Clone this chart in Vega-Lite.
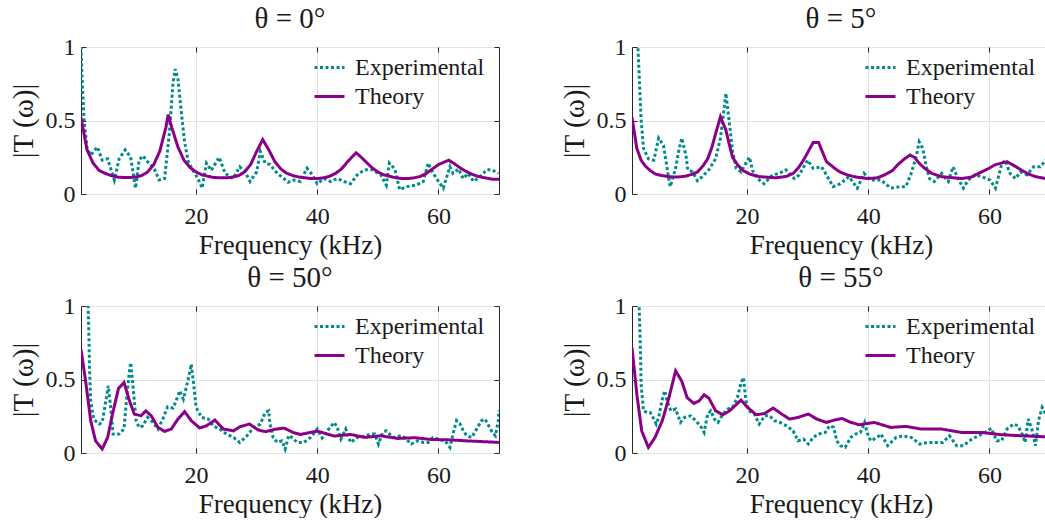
{
  "$schema": "https://vega.github.io/schema/vega-lite/v6.json",
  "background": "white",
  "padding": {"left": 8, "top": 4, "right": 0, "bottom": 0},
  "datasets": {
    "p0": [
      {"s":"Experimental","f":1,"v":1.0},{"s":"Experimental","f":1.2,"v":0.76},{"s":"Experimental","f":1.5,"v":0.51},{"s":"Experimental","f":2.0,"v":0.31},{"s":"Experimental","f":2.6,"v":0.265},{"s":"Experimental","f":3.7,"v":0.32},{"s":"Experimental","f":4.5,"v":0.23},{"s":"Experimental","f":5.4,"v":0.24},{"s":"Experimental","f":6.5,"v":0.095},{"s":"Experimental","f":7.3,"v":0.24},{"s":"Experimental","f":8.3,"v":0.30},{"s":"Experimental","f":9.2,"v":0.25},{"s":"Experimental","f":10,"v":0.04},{"s":"Experimental","f":10.6,"v":0.23},{"s":"Experimental","f":11.2,"v":0.26},{"s":"Experimental","f":12,"v":0.22},{"s":"Experimental","f":13.1,"v":0.17},{"s":"Experimental","f":13.9,"v":0.095},{"s":"Experimental","f":14.8,"v":0.105},{"s":"Experimental","f":15.6,"v":0.42},{"s":"Experimental","f":16.2,"v":0.76},{"s":"Experimental","f":16.55,"v":0.85},{"s":"Experimental","f":17.0,"v":0.785},{"s":"Experimental","f":17.6,"v":0.54},{"s":"Experimental","f":18.1,"v":0.355},{"s":"Experimental","f":18.7,"v":0.22},{"s":"Experimental","f":19.5,"v":0.16},{"s":"Experimental","f":20.3,"v":0.105},{"s":"Experimental","f":21,"v":0.04},{"s":"Experimental","f":21.7,"v":0.21},{"s":"Experimental","f":22.5,"v":0.16},{"s":"Experimental","f":23.8,"v":0.25},{"s":"Experimental","f":24.8,"v":0.14},{"s":"Experimental","f":26.1,"v":0.105},{"s":"Experimental","f":27.2,"v":0.185},{"s":"Experimental","f":28.1,"v":0.15},{"s":"Experimental","f":28.9,"v":0.085},{"s":"Experimental","f":30,"v":0.15},{"s":"Experimental","f":30.6,"v":0.29},{"s":"Experimental","f":31.4,"v":0.21},{"s":"Experimental","f":32.2,"v":0.2},{"s":"Experimental","f":33.4,"v":0.14},{"s":"Experimental","f":34.5,"v":0.105},{"s":"Experimental","f":35.2,"v":0.08},{"s":"Experimental","f":36.1,"v":0.095},{"s":"Experimental","f":37.2,"v":0.085},{"s":"Experimental","f":38.3,"v":0.175},{"s":"Experimental","f":39.2,"v":0.13},{"s":"Experimental","f":40,"v":0.07},{"s":"Experimental","f":41.1,"v":0.105},{"s":"Experimental","f":42.2,"v":0.085},{"s":"Experimental","f":43.3,"v":0.105},{"s":"Experimental","f":44.4,"v":0.085},{"s":"Experimental","f":45.5,"v":0.07},{"s":"Experimental","f":46.6,"v":0.13},{"s":"Experimental","f":47.8,"v":0.165},{"s":"Experimental","f":49.1,"v":0.165},{"s":"Experimental","f":50.5,"v":0.13},{"s":"Experimental","f":51.4,"v":0.06},{"s":"Experimental","f":51.9,"v":0.21},{"s":"Experimental","f":52.8,"v":0.17},{"s":"Experimental","f":53.6,"v":0.03},{"s":"Experimental","f":54.7,"v":0.05},{"s":"Experimental","f":56.3,"v":0.06},{"s":"Experimental","f":57.5,"v":0.085},{"s":"Experimental","f":58.3,"v":0.21},{"s":"Experimental","f":58.8,"v":0.165},{"s":"Experimental","f":59.7,"v":0.105},{"s":"Experimental","f":60.8,"v":0.04},{"s":"Experimental","f":61.9,"v":0.185},{"s":"Experimental","f":62.4,"v":0.14},{"s":"Experimental","f":63.3,"v":0.17},{"s":"Experimental","f":64.1,"v":0.105},{"s":"Experimental","f":64.9,"v":0.14},{"s":"Experimental","f":65.8,"v":0.085},{"s":"Experimental","f":66.9,"v":0.12},{"s":"Experimental","f":68,"v":0.165},{"s":"Experimental","f":68.8,"v":0.165},{"s":"Experimental","f":69.9,"v":0.14},
      {"s":"Theory","f":1,"v":0.52},{"s":"Theory","f":2,"v":0.3},{"s":"Theory","f":3,"v":0.21},{"s":"Theory","f":4,"v":0.16},{"s":"Theory","f":5,"v":0.14},{"s":"Theory","f":6,"v":0.125},{"s":"Theory","f":7,"v":0.115},{"s":"Theory","f":8,"v":0.112},{"s":"Theory","f":9,"v":0.112},{"s":"Theory","f":10,"v":0.115},{"s":"Theory","f":11,"v":0.125},{"s":"Theory","f":12,"v":0.15},{"s":"Theory","f":13,"v":0.2},{"s":"Theory","f":14,"v":0.29},{"s":"Theory","f":15,"v":0.45},{"s":"Theory","f":15.4,"v":0.54},{"s":"Theory","f":16,"v":0.45},{"s":"Theory","f":17,"v":0.32},{"s":"Theory","f":18,"v":0.23},{"s":"Theory","f":19,"v":0.18},{"s":"Theory","f":20,"v":0.15},{"s":"Theory","f":21,"v":0.13},{"s":"Theory","f":22,"v":0.12},{"s":"Theory","f":23,"v":0.112},{"s":"Theory","f":24,"v":0.11},{"s":"Theory","f":25,"v":0.11},{"s":"Theory","f":26,"v":0.115},{"s":"Theory","f":27,"v":0.125},{"s":"Theory","f":28,"v":0.15},{"s":"Theory","f":29,"v":0.2},{"s":"Theory","f":30,"v":0.29},{"s":"Theory","f":31,"v":0.37},{"s":"Theory","f":32,"v":0.3},{"s":"Theory","f":33,"v":0.22},{"s":"Theory","f":34,"v":0.17},{"s":"Theory","f":35,"v":0.14},{"s":"Theory","f":36,"v":0.125},{"s":"Theory","f":37,"v":0.115},{"s":"Theory","f":38,"v":0.11},{"s":"Theory","f":39,"v":0.105},{"s":"Theory","f":40,"v":0.105},{"s":"Theory","f":41,"v":0.11},{"s":"Theory","f":42,"v":0.12},{"s":"Theory","f":43,"v":0.14},{"s":"Theory","f":44,"v":0.17},{"s":"Theory","f":45,"v":0.22},{"s":"Theory","f":46.4,"v":0.28},{"s":"Theory","f":47,"v":0.26},{"s":"Theory","f":48,"v":0.22},{"s":"Theory","f":49,"v":0.18},{"s":"Theory","f":50,"v":0.15},{"s":"Theory","f":51,"v":0.13},{"s":"Theory","f":52,"v":0.12},{"s":"Theory","f":53,"v":0.11},{"s":"Theory","f":54,"v":0.105},{"s":"Theory","f":55,"v":0.105},{"s":"Theory","f":56,"v":0.11},{"s":"Theory","f":57,"v":0.12},{"s":"Theory","f":58,"v":0.14},{"s":"Theory","f":59,"v":0.17},{"s":"Theory","f":60,"v":0.2},{"s":"Theory","f":61.7,"v":0.23},{"s":"Theory","f":62.5,"v":0.21},{"s":"Theory","f":63.5,"v":0.18},{"s":"Theory","f":64.5,"v":0.155},{"s":"Theory","f":65.5,"v":0.135},{"s":"Theory","f":66.5,"v":0.12},{"s":"Theory","f":67.7,"v":0.11},{"s":"Theory","f":69,"v":0.1},{"s":"Theory","f":70,"v":0.1}
    ],
    "p1": [
      {"s":"Experimental","f":1,"v":2.6},{"s":"Experimental","f":2.0,"v":0.98},{"s":"Experimental","f":2.5,"v":0.51},{"s":"Experimental","f":2.9,"v":0.31},{"s":"Experimental","f":3.7,"v":0.24},{"s":"Experimental","f":4.6,"v":0.23},{"s":"Experimental","f":5.4,"v":0.38},{"s":"Experimental","f":6.2,"v":0.33},{"s":"Experimental","f":6.8,"v":0.175},{"s":"Experimental","f":7.3,"v":0.05},{"s":"Experimental","f":8.2,"v":0.175},{"s":"Experimental","f":8.7,"v":0.29},{"s":"Experimental","f":9.2,"v":0.38},{"s":"Experimental","f":9.9,"v":0.265},{"s":"Experimental","f":10.2,"v":0.165},{"s":"Experimental","f":11,"v":0.15},{"s":"Experimental","f":11.8,"v":0.09},{"s":"Experimental","f":12.6,"v":0.118},{"s":"Experimental","f":13.7,"v":0.165},{"s":"Experimental","f":14.8,"v":0.24},{"s":"Experimental","f":15.6,"v":0.38},{"s":"Experimental","f":16.2,"v":0.58},{"s":"Experimental","f":16.5,"v":0.685},{"s":"Experimental","f":17.0,"v":0.51},{"s":"Experimental","f":17.6,"v":0.29},{"s":"Experimental","f":18.2,"v":0.175},{"s":"Experimental","f":19,"v":0.15},{"s":"Experimental","f":19.8,"v":0.21},{"s":"Experimental","f":20.4,"v":0.25},{"s":"Experimental","f":20.9,"v":0.16},{"s":"Experimental","f":21.7,"v":0.105},{"s":"Experimental","f":22.8,"v":0.07},{"s":"Experimental","f":24.2,"v":0.13},{"s":"Experimental","f":25.3,"v":0.14},{"s":"Experimental","f":26.4,"v":0.165},{"s":"Experimental","f":27.8,"v":0.105},{"s":"Experimental","f":28.6,"v":0.13},{"s":"Experimental","f":30,"v":0.23},{"s":"Experimental","f":30.9,"v":0.175},{"s":"Experimental","f":32.3,"v":0.185},{"s":"Experimental","f":33.1,"v":0.13},{"s":"Experimental","f":34.2,"v":0.05},{"s":"Experimental","f":35.4,"v":0.07},{"s":"Experimental","f":36.8,"v":0.118},{"s":"Experimental","f":38.2,"v":0.04},{"s":"Experimental","f":39.3,"v":0.14},{"s":"Experimental","f":40.4,"v":0.095},{"s":"Experimental","f":42.1,"v":0.095},{"s":"Experimental","f":43.7,"v":0.04},{"s":"Experimental","f":45.4,"v":0.05},{"s":"Experimental","f":46.2,"v":0.05},{"s":"Experimental","f":47.0,"v":0.13},{"s":"Experimental","f":47.9,"v":0.25},{"s":"Experimental","f":48.4,"v":0.355},{"s":"Experimental","f":49,"v":0.31},{"s":"Experimental","f":49.5,"v":0.2},{"s":"Experimental","f":50.1,"v":0.105},{"s":"Experimental","f":50.9,"v":0.085},{"s":"Experimental","f":52.1,"v":0.14},{"s":"Experimental","f":53.2,"v":0.085},{"s":"Experimental","f":54,"v":0.185},{"s":"Experimental","f":54.8,"v":0.105},{"s":"Experimental","f":55.7,"v":0.04},{"s":"Experimental","f":56.5,"v":0.095},{"s":"Experimental","f":57.6,"v":0.13},{"s":"Experimental","f":58.7,"v":0.118},{"s":"Experimental","f":60.1,"v":0.095},{"s":"Experimental","f":61,"v":0.04},{"s":"Experimental","f":62,"v":0.2},{"s":"Experimental","f":62.6,"v":0.23},{"s":"Experimental","f":63.4,"v":0.14},{"s":"Experimental","f":64.3,"v":0.105},{"s":"Experimental","f":65.1,"v":0.15},{"s":"Experimental","f":66.2,"v":0.13},{"s":"Experimental","f":67.3,"v":0.185},{"s":"Experimental","f":68.4,"v":0.185},{"s":"Experimental","f":69.3,"v":0.23},{"s":"Experimental","f":70,"v":0.22},
      {"s":"Theory","f":1,"v":0.52},{"s":"Theory","f":1.8,"v":0.31},{"s":"Theory","f":2.5,"v":0.23},{"s":"Theory","f":3.2,"v":0.19},{"s":"Theory","f":4,"v":0.16},{"s":"Theory","f":4.9,"v":0.135},{"s":"Theory","f":6,"v":0.125},{"s":"Theory","f":7.1,"v":0.118},{"s":"Theory","f":8.5,"v":0.115},{"s":"Theory","f":9.9,"v":0.122},{"s":"Theory","f":11,"v":0.135},{"s":"Theory","f":11.8,"v":0.15},{"s":"Theory","f":12.7,"v":0.19},{"s":"Theory","f":13.5,"v":0.24},{"s":"Theory","f":14.2,"v":0.32},{"s":"Theory","f":14.8,"v":0.41},{"s":"Theory","f":15.6,"v":0.525},{"s":"Theory","f":16.5,"v":0.435},{"s":"Theory","f":17.1,"v":0.33},{"s":"Theory","f":17.6,"v":0.25},{"s":"Theory","f":18.4,"v":0.2},{"s":"Theory","f":19.3,"v":0.16},{"s":"Theory","f":20.5,"v":0.135},{"s":"Theory","f":22,"v":0.118},{"s":"Theory","f":24.8,"v":0.11},{"s":"Theory","f":26.5,"v":0.12},{"s":"Theory","f":27.6,"v":0.14},{"s":"Theory","f":28.5,"v":0.18},{"s":"Theory","f":29.3,"v":0.23},{"s":"Theory","f":30.1,"v":0.29},{"s":"Theory","f":30.9,"v":0.35},{"s":"Theory","f":31.8,"v":0.35},{"s":"Theory","f":32.5,"v":0.28},{"s":"Theory","f":33.1,"v":0.22},{"s":"Theory","f":34.3,"v":0.18},{"s":"Theory","f":35.3,"v":0.15},{"s":"Theory","f":36.5,"v":0.13},{"s":"Theory","f":38,"v":0.115},{"s":"Theory","f":39.9,"v":0.105},{"s":"Theory","f":41.5,"v":0.11},{"s":"Theory","f":42.7,"v":0.13},{"s":"Theory","f":44,"v":0.16},{"s":"Theory","f":44.9,"v":0.2},{"s":"Theory","f":46,"v":0.24},{"s":"Theory","f":46.9,"v":0.265},{"s":"Theory","f":47.6,"v":0.25},{"s":"Theory","f":48.4,"v":0.21},{"s":"Theory","f":49.3,"v":0.175},{"s":"Theory","f":50.5,"v":0.14},{"s":"Theory","f":52.1,"v":0.118},{"s":"Theory","f":55.4,"v":0.105},{"s":"Theory","f":57,"v":0.115},{"s":"Theory","f":58.2,"v":0.14},{"s":"Theory","f":59.7,"v":0.17},{"s":"Theory","f":61,"v":0.2},{"s":"Theory","f":62.9,"v":0.22},{"s":"Theory","f":64.2,"v":0.19},{"s":"Theory","f":65.4,"v":0.16},{"s":"Theory","f":66.5,"v":0.135},{"s":"Theory","f":67.6,"v":0.118},{"s":"Theory","f":69.3,"v":0.105},{"s":"Theory","f":70,"v":0.1}
    ],
    "p2": [
      {"s":"Experimental","f":1,"v":2.8},{"s":"Experimental","f":2.3,"v":0.81},{"s":"Experimental","f":2.4,"v":0.58},{"s":"Experimental","f":2.6,"v":0.355},{"s":"Experimental","f":3.1,"v":0.23},{"s":"Experimental","f":4,"v":0.197},{"s":"Experimental","f":4.5,"v":0.208},{"s":"Experimental","f":5.1,"v":0.355},{"s":"Experimental","f":5.5,"v":0.457},{"s":"Experimental","f":5.9,"v":0.31},{"s":"Experimental","f":6.3,"v":0.129},{"s":"Experimental","f":7.3,"v":0.129},{"s":"Experimental","f":8.1,"v":0.163},{"s":"Experimental","f":8.5,"v":0.355},{"s":"Experimental","f":9.0,"v":0.56},{"s":"Experimental","f":9.2,"v":0.615},{"s":"Experimental","f":9.6,"v":0.445},{"s":"Experimental","f":10.1,"v":0.22},{"s":"Experimental","f":10.6,"v":0.174},{"s":"Experimental","f":11.2,"v":0.185},{"s":"Experimental","f":12,"v":0.242},{"s":"Experimental","f":12.9,"v":0.208},{"s":"Experimental","f":13.7,"v":0.163},{"s":"Experimental","f":14.5,"v":0.231},{"s":"Experimental","f":15.3,"v":0.314},{"s":"Experimental","f":16.2,"v":0.306},{"s":"Experimental","f":16.7,"v":0.355},{"s":"Experimental","f":17.3,"v":0.423},{"s":"Experimental","f":17.9,"v":0.367},{"s":"Experimental","f":18.7,"v":0.502},{"s":"Experimental","f":19.2,"v":0.604},{"s":"Experimental","f":19.6,"v":0.468},{"s":"Experimental","f":20,"v":0.31},{"s":"Experimental","f":20.9,"v":0.242},{"s":"Experimental","f":22,"v":0.231},{"s":"Experimental","f":22.8,"v":0.185},{"s":"Experimental","f":23.9,"v":0.163},{"s":"Experimental","f":25,"v":0.129},{"s":"Experimental","f":26.2,"v":0.106},{"s":"Experimental","f":27.2,"v":0.072},{"s":"Experimental","f":28.4,"v":0.117},{"s":"Experimental","f":29.5,"v":0.174},{"s":"Experimental","f":30.6,"v":0.197},{"s":"Experimental","f":31.4,"v":0.276},{"s":"Experimental","f":31.97,"v":0.287},{"s":"Experimental","f":32.2,"v":0.197},{"s":"Experimental","f":32.7,"v":0.106},{"s":"Experimental","f":33.4,"v":0.072},{"s":"Experimental","f":34.2,"v":0.083},{"s":"Experimental","f":34.7,"v":0.027},{"s":"Experimental","f":35.3,"v":0.12},{"s":"Experimental","f":35.8,"v":0.106},{"s":"Experimental","f":36.7,"v":0.072},{"s":"Experimental","f":37.8,"v":0.072},{"s":"Experimental","f":38.9,"v":0.106},{"s":"Experimental","f":40,"v":0.163},{"s":"Experimental","f":40.8,"v":0.102},{"s":"Experimental","f":41.9,"v":0.163},{"s":"Experimental","f":42.8,"v":0.208},{"s":"Experimental","f":43.3,"v":0.174},{"s":"Experimental","f":43.9,"v":0.095},{"s":"Experimental","f":44.7,"v":0.163},{"s":"Experimental","f":45.5,"v":0.072},{"s":"Experimental","f":46.6,"v":0.106},{"s":"Experimental","f":48,"v":0.117},{"s":"Experimental","f":48.9,"v":0.129},{"s":"Experimental","f":49.5,"v":0.129},{"s":"Experimental","f":50.1,"v":0.061},{"s":"Experimental","f":50.8,"v":0.14},{"s":"Experimental","f":51.4,"v":0.151},{"s":"Experimental","f":52.5,"v":0.106},{"s":"Experimental","f":53.8,"v":0.117},{"s":"Experimental","f":54.4,"v":0.106},{"s":"Experimental","f":55.5,"v":0.061},{"s":"Experimental","f":56.6,"v":0.083},{"s":"Experimental","f":57.5,"v":0.072},{"s":"Experimental","f":58.3,"v":0.072},{"s":"Experimental","f":59.1,"v":0.106},{"s":"Experimental","f":59.9,"v":0.095},{"s":"Experimental","f":61.1,"v":0.083},{"s":"Experimental","f":61.9,"v":0.038},{"s":"Experimental","f":62.4,"v":0.129},{"s":"Experimental","f":63,"v":0.22},{"s":"Experimental","f":63.6,"v":0.197},{"s":"Experimental","f":64.1,"v":0.151},{"s":"Experimental","f":64.7,"v":0.117},{"s":"Experimental","f":65.5,"v":0.106},{"s":"Experimental","f":66.3,"v":0.163},{"s":"Experimental","f":67.1,"v":0.22},{"s":"Experimental","f":67.7,"v":0.231},{"s":"Experimental","f":68.3,"v":0.185},{"s":"Experimental","f":68.9,"v":0.14},{"s":"Experimental","f":69.4,"v":0.117},{"s":"Experimental","f":69.9,"v":0.22},{"s":"Experimental","f":70,"v":0.29},
      {"s":"Theory","f":1,"v":0.705},{"s":"Theory","f":1.76,"v":0.49},{"s":"Theory","f":2.6,"v":0.22},{"s":"Theory","f":3.4,"v":0.083},{"s":"Theory","f":4.5,"v":0.027},{"s":"Theory","f":5.4,"v":0.106},{"s":"Theory","f":6.2,"v":0.265},{"s":"Theory","f":7.2,"v":0.44},{"s":"Theory","f":8.1,"v":0.48},{"s":"Theory","f":9.0,"v":0.355},{"s":"Theory","f":9.8,"v":0.265},{"s":"Theory","f":10.9,"v":0.253},{"s":"Theory","f":11.7,"v":0.287},{"s":"Theory","f":12.6,"v":0.253},{"s":"Theory","f":13.7,"v":0.174},{"s":"Theory","f":14.8,"v":0.147},{"s":"Theory","f":15.9,"v":0.163},{"s":"Theory","f":17,"v":0.231},{"s":"Theory","f":18.1,"v":0.282},{"s":"Theory","f":19.2,"v":0.22},{"s":"Theory","f":20.6,"v":0.17},{"s":"Theory","f":21.7,"v":0.185},{"s":"Theory","f":23.1,"v":0.224},{"s":"Theory","f":24.5,"v":0.163},{"s":"Theory","f":26.2,"v":0.151},{"s":"Theory","f":27.2,"v":0.178},{"s":"Theory","f":28.8,"v":0.197},{"s":"Theory","f":30.3,"v":0.156},{"s":"Theory","f":31.5,"v":0.145},{"s":"Theory","f":32.9,"v":0.16},{"s":"Theory","f":34.5,"v":0.17},{"s":"Theory","f":36,"v":0.14},{"s":"Theory","f":37.2,"v":0.126},{"s":"Theory","f":40,"v":0.149},{"s":"Theory","f":42.8,"v":0.115},{"s":"Theory","f":45.5,"v":0.126},{"s":"Theory","f":47.8,"v":0.106},{"s":"Theory","f":50.5,"v":0.117},{"s":"Theory","f":53.3,"v":0.099},{"s":"Theory","f":56.1,"v":0.104},{"s":"Theory","f":58.8,"v":0.092},{"s":"Theory","f":61.6,"v":0.09},{"s":"Theory","f":64.4,"v":0.083},{"s":"Theory","f":67,"v":0.078},{"s":"Theory","f":70,"v":0.072}
    ],
    "p3": [
      {"s":"Experimental","f":1,"v":2.6},{"s":"Experimental","f":2.4,"v":0.695},{"s":"Experimental","f":2.5,"v":0.468},{"s":"Experimental","f":2.9,"v":0.287},{"s":"Experimental","f":3.5,"v":0.276},{"s":"Experimental","f":4,"v":0.276},{"s":"Experimental","f":4.6,"v":0.231},{"s":"Experimental","f":5,"v":0.197},{"s":"Experimental","f":5.4,"v":0.242},{"s":"Experimental","f":6,"v":0.367},{"s":"Experimental","f":6.4,"v":0.423},{"s":"Experimental","f":6.8,"v":0.355},{"s":"Experimental","f":7.4,"v":0.287},{"s":"Experimental","f":8.2,"v":0.299},{"s":"Experimental","f":9,"v":0.208},{"s":"Experimental","f":9.7,"v":0.242},{"s":"Experimental","f":10.7,"v":0.253},{"s":"Experimental","f":11.5,"v":0.22},{"s":"Experimental","f":12.3,"v":0.185},{"s":"Experimental","f":12.9,"v":0.14},{"s":"Experimental","f":13.5,"v":0.265},{"s":"Experimental","f":14,"v":0.287},{"s":"Experimental","f":14.6,"v":0.231},{"s":"Experimental","f":15.2,"v":0.208},{"s":"Experimental","f":16,"v":0.265},{"s":"Experimental","f":16.8,"v":0.299},{"s":"Experimental","f":17.6,"v":0.31},{"s":"Experimental","f":18.4,"v":0.377},{"s":"Experimental","f":19,"v":0.479},{"s":"Experimental","f":19.4,"v":0.513},{"s":"Experimental","f":19.8,"v":0.355},{"s":"Experimental","f":20.3,"v":0.287},{"s":"Experimental","f":21.2,"v":0.265},{"s":"Experimental","f":22,"v":0.197},{"s":"Experimental","f":22.9,"v":0.253},{"s":"Experimental","f":23.7,"v":0.253},{"s":"Experimental","f":24.5,"v":0.22},{"s":"Experimental","f":25.4,"v":0.208},{"s":"Experimental","f":26.5,"v":0.185},{"s":"Experimental","f":27.6,"v":0.151},{"s":"Experimental","f":28.4,"v":0.083},{"s":"Experimental","f":29.3,"v":0.095},{"s":"Experimental","f":30.1,"v":0.061},{"s":"Experimental","f":30.9,"v":0.106},{"s":"Experimental","f":31.8,"v":0.129},{"s":"Experimental","f":32.9,"v":0.14},{"s":"Experimental","f":33.6,"v":0.185},{"s":"Experimental","f":34.3,"v":0.174},{"s":"Experimental","f":34.8,"v":0.083},{"s":"Experimental","f":35.4,"v":0.05},{"s":"Experimental","f":36.2,"v":0.038},{"s":"Experimental","f":37.1,"v":0.106},{"s":"Experimental","f":37.9,"v":0.129},{"s":"Experimental","f":38.7,"v":0.14},{"s":"Experimental","f":39.4,"v":0.208},{"s":"Experimental","f":39.8,"v":0.14},{"s":"Experimental","f":40.4,"v":0.083},{"s":"Experimental","f":41.5,"v":0.106},{"s":"Experimental","f":42.1,"v":0.129},{"s":"Experimental","f":43.2,"v":0.05},{"s":"Experimental","f":44.6,"v":0.106},{"s":"Experimental","f":45.7,"v":0.117},{"s":"Experimental","f":47.1,"v":0.106},{"s":"Experimental","f":48.5,"v":0.061},{"s":"Experimental","f":49.8,"v":0.072},{"s":"Experimental","f":51.2,"v":0.072},{"s":"Experimental","f":52.3,"v":0.072},{"s":"Experimental","f":53.4,"v":0.117},{"s":"Experimental","f":54.6,"v":0.05},{"s":"Experimental","f":55.7,"v":0.05},{"s":"Experimental","f":57.1,"v":0.095},{"s":"Experimental","f":58.2,"v":0.117},{"s":"Experimental","f":59.3,"v":0.14},{"s":"Experimental","f":60.3,"v":0.167},{"s":"Experimental","f":61.2,"v":0.083},{"s":"Experimental","f":62,"v":0.083},{"s":"Experimental","f":62.9,"v":0.163},{"s":"Experimental","f":64,"v":0.197},{"s":"Experimental","f":64.7,"v":0.185},{"s":"Experimental","f":65.4,"v":0.129},{"s":"Experimental","f":65.9,"v":0.072},{"s":"Experimental","f":66.4,"v":0.231},{"s":"Experimental","f":67,"v":0.163},{"s":"Experimental","f":67.6,"v":0.05},{"s":"Experimental","f":68.1,"v":0.22},{"s":"Experimental","f":68.7,"v":0.31},{"s":"Experimental","f":69.3,"v":0.265},{"s":"Experimental","f":70,"v":0.3},
      {"s":"Theory","f":1,"v":0.717},{"s":"Theory","f":1.8,"v":0.4},{"s":"Theory","f":2.6,"v":0.151},{"s":"Theory","f":3.7,"v":0.038},{"s":"Theory","f":4.8,"v":0.106},{"s":"Theory","f":6,"v":0.22},{"s":"Theory","f":7.1,"v":0.377},{"s":"Theory","f":8.2,"v":0.559},{"s":"Theory","f":9.2,"v":0.49},{"s":"Theory","f":10.1,"v":0.377},{"s":"Theory","f":11.2,"v":0.337},{"s":"Theory","f":12.1,"v":0.355},{"s":"Theory","f":12.9,"v":0.396},{"s":"Theory","f":13.7,"v":0.373},{"s":"Theory","f":14.8,"v":0.287},{"s":"Theory","f":16,"v":0.26},{"s":"Theory","f":17.1,"v":0.287},{"s":"Theory","f":19,"v":0.36},{"s":"Theory","f":20.1,"v":0.31},{"s":"Theory","f":21.5,"v":0.26},{"s":"Theory","f":22.9,"v":0.269},{"s":"Theory","f":24.3,"v":0.306},{"s":"Theory","f":25.7,"v":0.265},{"s":"Theory","f":27,"v":0.231},{"s":"Theory","f":28.4,"v":0.242},{"s":"Theory","f":30.1,"v":0.265},{"s":"Theory","f":31.5,"v":0.231},{"s":"Theory","f":33.1,"v":0.208},{"s":"Theory","f":34.5,"v":0.225},{"s":"Theory","f":35.7,"v":0.235},{"s":"Theory","f":37,"v":0.21},{"s":"Theory","f":38.5,"v":0.192},{"s":"Theory","f":41,"v":0.208},{"s":"Theory","f":43.7,"v":0.174},{"s":"Theory","f":46.2,"v":0.181},{"s":"Theory","f":48.7,"v":0.163},{"s":"Theory","f":52.1,"v":0.163},{"s":"Theory","f":55.4,"v":0.14},{"s":"Theory","f":58.7,"v":0.14},{"s":"Theory","f":62,"v":0.124},{"s":"Theory","f":65.4,"v":0.117},{"s":"Theory","f":69.3,"v":0.11},{"s":"Theory","f":70,"v":0.108}
    ]
  },
  "columns": 2,
  "spacing": {"row": 4, "column": 59},
  "concat": [
    {
      "title": "θ = 0°", "width": 418, "height": 147, "data": {"name": "p0"},
      "layer": [
        {"mark": {"type": "line", "clip": true, "strokeWidth": 3},
         "encoding": {
          "x": {"field": "f", "type": "quantitative", "scale": {"domain": [1, 70], "nice": false, "zero": false}, "axis": {"values": [20, 40, 60], "title": "Frequency (kHz)"}},
          "y": {"field": "v", "type": "quantitative", "scale": {"domain": [0, 1], "nice": false}, "axis": {"values": [0, 0.5, 1], "format": "~g", "title": "|T (ω)|"}},
          "color": {"field": "s", "type": "nominal", "scale": {"domain": ["Experimental", "Theory"], "range": ["#008b8b", "#8b008b"]}},
          "strokeDash": {"field": "s", "type": "nominal", "scale": {"domain": ["Experimental", "Theory"], "range": [[3, 2.5], [1, 0]]}}}},
        {"mark": {"type": "line", "opacity": 0, "clip": true},
         "encoding": {
          "x": {"field": "f", "type": "quantitative", "scale": {"domain": [1, 70], "nice": false, "zero": false}, "axis": {"orient": "top", "values": [20, 40, 60], "labels": false, "grid": false, "title": null}},
          "y": {"field": "v", "type": "quantitative", "scale": {"domain": [0, 1], "nice": false}, "axis": {"orient": "right", "values": [0, 0.5, 1], "labels": false, "grid": false, "title": null}}}}
      ],
      "resolve": {"axis": {"x": "independent", "y": "independent"}}
    },
    {
      "title": "θ = 5°", "width": 418, "height": 147, "data": {"name": "p1"},
      "layer": [
        {"mark": {"type": "line", "clip": true, "strokeWidth": 3},
         "encoding": {
          "x": {"field": "f", "type": "quantitative", "scale": {"domain": [1, 70], "nice": false, "zero": false}, "axis": {"values": [20, 40, 60], "title": "Frequency (kHz)"}},
          "y": {"field": "v", "type": "quantitative", "scale": {"domain": [0, 1], "nice": false}, "axis": {"values": [0, 0.5, 1], "format": "~g", "title": "|T (ω)|"}},
          "color": {"field": "s", "type": "nominal", "scale": {"domain": ["Experimental", "Theory"], "range": ["#008b8b", "#8b008b"]}},
          "strokeDash": {"field": "s", "type": "nominal", "scale": {"domain": ["Experimental", "Theory"], "range": [[3, 2.5], [1, 0]]}}}},
        {"mark": {"type": "line", "opacity": 0, "clip": true},
         "encoding": {
          "x": {"field": "f", "type": "quantitative", "scale": {"domain": [1, 70], "nice": false, "zero": false}, "axis": {"orient": "top", "values": [20, 40, 60], "labels": false, "grid": false, "title": null}},
          "y": {"field": "v", "type": "quantitative", "scale": {"domain": [0, 1], "nice": false}, "axis": {"orient": "right", "values": [0, 0.5, 1], "labels": false, "grid": false, "title": null}}}}
      ],
      "resolve": {"axis": {"x": "independent", "y": "independent"}}
    },
    {
      "title": "θ = 50°", "width": 418, "height": 147, "data": {"name": "p2"},
      "layer": [
        {"mark": {"type": "line", "clip": true, "strokeWidth": 3},
         "encoding": {
          "x": {"field": "f", "type": "quantitative", "scale": {"domain": [1, 70], "nice": false, "zero": false}, "axis": {"values": [20, 40, 60], "title": "Frequency (kHz)"}},
          "y": {"field": "v", "type": "quantitative", "scale": {"domain": [0, 1], "nice": false}, "axis": {"values": [0, 0.5, 1], "format": "~g", "title": "|T (ω)|"}},
          "color": {"field": "s", "type": "nominal", "scale": {"domain": ["Experimental", "Theory"], "range": ["#008b8b", "#8b008b"]}},
          "strokeDash": {"field": "s", "type": "nominal", "scale": {"domain": ["Experimental", "Theory"], "range": [[3, 2.5], [1, 0]]}}}},
        {"mark": {"type": "line", "opacity": 0, "clip": true},
         "encoding": {
          "x": {"field": "f", "type": "quantitative", "scale": {"domain": [1, 70], "nice": false, "zero": false}, "axis": {"orient": "top", "values": [20, 40, 60], "labels": false, "grid": false, "title": null}},
          "y": {"field": "v", "type": "quantitative", "scale": {"domain": [0, 1], "nice": false}, "axis": {"orient": "right", "values": [0, 0.5, 1], "labels": false, "grid": false, "title": null}}}}
      ],
      "resolve": {"axis": {"x": "independent", "y": "independent"}}
    },
    {
      "title": "θ = 55°", "width": 418, "height": 147, "data": {"name": "p3"},
      "layer": [
        {"mark": {"type": "line", "clip": true, "strokeWidth": 3},
         "encoding": {
          "x": {"field": "f", "type": "quantitative", "scale": {"domain": [1, 70], "nice": false, "zero": false}, "axis": {"values": [20, 40, 60], "title": "Frequency (kHz)"}},
          "y": {"field": "v", "type": "quantitative", "scale": {"domain": [0, 1], "nice": false}, "axis": {"values": [0, 0.5, 1], "format": "~g", "title": "|T (ω)|"}},
          "color": {"field": "s", "type": "nominal", "scale": {"domain": ["Experimental", "Theory"], "range": ["#008b8b", "#8b008b"]}},
          "strokeDash": {"field": "s", "type": "nominal", "scale": {"domain": ["Experimental", "Theory"], "range": [[3, 2.5], [1, 0]]}}}},
        {"mark": {"type": "line", "opacity": 0, "clip": true},
         "encoding": {
          "x": {"field": "f", "type": "quantitative", "scale": {"domain": [1, 70], "nice": false, "zero": false}, "axis": {"orient": "top", "values": [20, 40, 60], "labels": false, "grid": false, "title": null}},
          "y": {"field": "v", "type": "quantitative", "scale": {"domain": [0, 1], "nice": false}, "axis": {"orient": "right", "values": [0, 0.5, 1], "labels": false, "grid": false, "title": null}}}}
      ],
      "resolve": {"axis": {"x": "independent", "y": "independent"}}
    }
  ],
  "resolve": {"scale": {"color": "independent", "strokeDash": "independent", "x": "independent", "y": "independent"}, "legend": {"color": "independent", "strokeDash": "independent"}},
  "config": {
    "font": "Liberation Serif",
    "view": {"stroke": "#262626", "strokeWidth": 1},
    "axis": {
      "grid": true, "gridColor": "#e2e2e2", "gridWidth": 1,
      "domain": false, "tickColor": "#262626", "tickSize": -5, "tickWidth": 1,
      "labelFont": "Liberation Serif", "labelFontSize": 24, "labelColor": "#1a1a1a",
      "titleFont": "Liberation Serif", "titleFontSize": 27, "titleFontWeight": "normal", "titleColor": "#1a1a1a"
    },
    "axisX": {"labelPadding": 15, "titlePadding": 4},
    "axisY": {"labelPadding": 11, "titlePadding": 7, "titleFontSize": 29},
    "title": {"font": "Liberation Serif", "fontSize": 29, "fontWeight": "normal", "color": "#1a1a1a", "offset": 1},
    "legend": {
      "orient": "none", "legendX": 232, "legendY": 4, "title": null, "padding": 0,
      "symbolType": "stroke", "symbolSize": 900, "symbolStrokeWidth": 3,
      "labelFont": "Liberation Serif", "labelFontSize": 24, "labelColor": "#1a1a1a", "labelOffset": 9, "rowPadding": -1, "labelLimit": 300
    }
  }
}
